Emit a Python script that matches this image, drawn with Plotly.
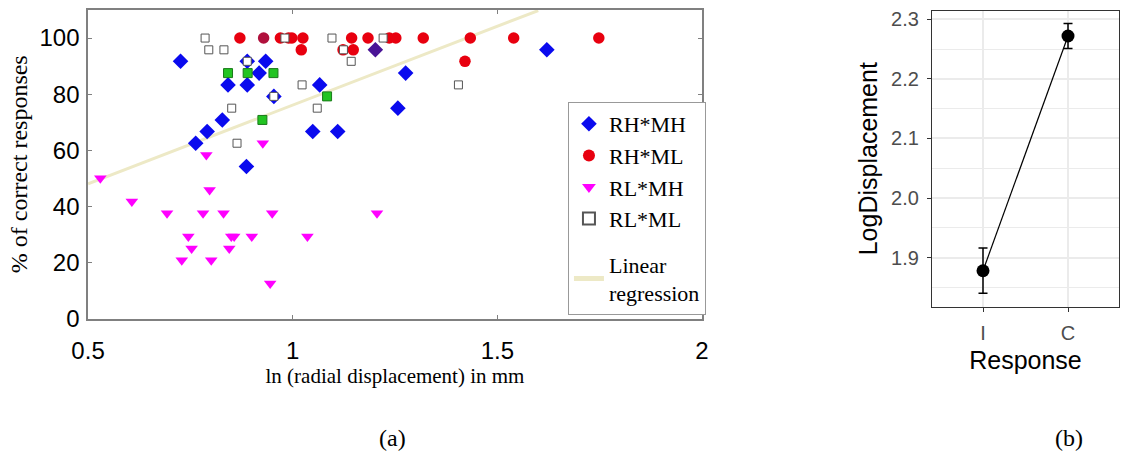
import plotly.graph_objects as go

# ---------------- Panel (a) data ----------------
rh_mh_x = [0.726, 0.842, 0.889, 0.918, 0.934, 0.791, 0.828, 0.763, 0.887, 0.889, 0.954, 1.066, 1.049, 1.110, 1.257, 1.276, 1.621]
rh_mh_y = [91.7, 83.3, 83.3, 87.5, 91.7, 66.7, 70.8, 62.5, 54.2, 91.7, 79.2, 83.3, 66.7, 66.7, 75.0, 87.5, 95.8]

rh_ml_x = [0.871, 0.970, 0.990, 0.998, 1.025, 1.021, 1.144, 1.184, 1.148, 1.123, 1.236, 1.252, 1.319, 1.434, 1.421, 1.540, 1.748]
rh_ml_y = [100, 100, 100, 100, 100, 95.8, 100, 100, 95.8, 95.8, 100, 100, 100, 100, 91.7, 100, 100]

rl_mh_x = [0.530, 0.789, 0.797, 0.607, 0.693, 0.781, 0.831, 0.950, 1.206, 0.745, 0.850, 0.857, 0.900, 1.036, 0.753, 0.845, 0.729, 0.801, 0.945, 0.927]
rl_mh_y = [50.0, 58.3, 45.8, 41.7, 37.5, 37.5, 37.5, 37.5, 37.5, 29.2, 29.2, 29.2, 29.2, 29.2, 25.0, 25.0, 20.8, 20.8, 12.5, 62.5]

rl_ml_x = [0.786, 0.795, 0.832, 0.851, 0.864, 1.023, 1.060, 1.096, 1.143, 1.221, 0.981, 1.124, 0.954, 0.889, 1.405]
rl_ml_y = [100, 95.8, 95.8, 75.0, 62.5, 83.3, 75.0, 100, 91.7, 100, 100, 95.8, 79.2, 91.7, 83.3]

# overlapping points (mixed colours in the original)
green_x = [0.842, 0.890, 0.953, 0.926, 1.084]
green_y = [87.5, 87.5, 87.5, 70.8, 79.2]
purple_x = [1.202]
purple_y = [95.8]
darkred_x = [0.929]
darkred_y = [100]

reg_x = [0.5, 1.6]
reg_y = [48.0, 109.8]

# ---------------- Panel (b) data ----------------
resp_cat = ["I", "C"]
resp_mean = [1.878, 2.272]
resp_err = [0.038, 0.021]

SERIF = "Liberation Serif"
SANS = "Liberation Sans"

fig = go.Figure()

fig.add_trace(go.Scatter(x=reg_x, y=reg_y, mode="lines", name="Linear<br>regression",
                         line=dict(color="#ede9c6", width=3), legendgroup="reg", legendrank=5,
                         xaxis="x", yaxis="y"))
fig.add_trace(go.Scatter(x=rl_mh_x, y=rl_mh_y, mode="markers", name="RL*MH", legendgroup="pts", legendrank=3,
                         marker=dict(symbol="triangle-down", size=11, color="#ff00ff", line=dict(width=0)),
                         xaxis="x", yaxis="y"))
fig.add_trace(go.Scatter(x=rh_mh_x, y=rh_mh_y, mode="markers", name="RH*MH", legendgroup="pts", legendrank=1,
                         marker=dict(symbol="diamond", size=12, color="#0a0aee", line=dict(width=0)),
                         xaxis="x", yaxis="y"))
fig.add_trace(go.Scatter(x=purple_x, y=purple_y, mode="markers", showlegend=False,
                         marker=dict(symbol="diamond", size=12, color="#4a1496", line=dict(width=0)),
                         xaxis="x", yaxis="y"))
fig.add_trace(go.Scatter(x=rh_ml_x, y=rh_ml_y, mode="markers", name="RH*ML", legendgroup="pts", legendrank=2,
                         marker=dict(symbol="circle", size=11.5, color="#e8000f", line=dict(width=0)),
                         xaxis="x", yaxis="y"))
fig.add_trace(go.Scatter(x=darkred_x, y=darkred_y, mode="markers", showlegend=False,
                         marker=dict(symbol="circle", size=11.5, color="#b0103c", line=dict(width=0)),
                         xaxis="x", yaxis="y"))
fig.add_trace(go.Scatter(x=rl_ml_x, y=rl_ml_y, mode="markers", name="RL*ML", legendgroup="pts", legendrank=4,
                         marker=dict(symbol="square", size=8, color="white", line=dict(width=1, color="#555555")),
                         xaxis="x", yaxis="y"))
fig.add_trace(go.Scatter(x=green_x, y=green_y, mode="markers", showlegend=False,
                         marker=dict(symbol="square", size=9, color="#22c422", line=dict(width=1, color="#1a7a1a")),
                         xaxis="x", yaxis="y"))

# panel (b)
fig.add_trace(go.Scatter(x=resp_cat, y=resp_mean, mode="lines+markers", showlegend=False,
                         line=dict(color="black", width=1.2),
                         marker=dict(symbol="circle", size=13, color="black"),
                         error_y=dict(type="data", array=resp_err, arrayminus=resp_err,
                                      color="black", thickness=1.5, width=4.5),
                         xaxis="x2", yaxis="y2"))

fig.update_layout(
    width=1126, height=461,
    margin=dict(l=0, r=0, t=0, b=0),
    paper_bgcolor="white", plot_bgcolor="white",
    xaxis=dict(domain=[0.0782, 0.6234], range=[0.5, 2.0], tick0=0.5, dtick=0.5, automargin=False,
               showline=True, mirror="ticks", linecolor="#808080", linewidth=1.5,
               ticks="inside", ticklen=4, tickcolor="#808080", showgrid=False, zeroline=False,
               tickfont=dict(family=SANS, size=24, color="black"), ticklabelstandoff=10,
               title=dict(text="ln (radial displacement) in mm", font=dict(family=SERIF, size=21, color="black"),
                          standoff=3), anchor="y"),
    yaxis=dict(domain=[0.3091, 0.9783], range=[0, 110], tick0=0, dtick=20, automargin=False,
               showline=True, mirror="ticks", linecolor="#808080", linewidth=1.5,
               ticks="inside", ticklen=4, tickcolor="#808080", showgrid=False, zeroline=False,
               tickfont=dict(family=SANS, size=24, color="black"), ticklabelstandoff=2,
               title=dict(text="% of correct responses", font=dict(family=SERIF, size=24, color="black"),
                          standoff=5), anchor="x"),
    xaxis2=dict(domain=[0.8277, 0.9938], range=[-0.6, 1.6], type="category", automargin=False,
                showline=True, mirror=True, linecolor="#333333", linewidth=1.2,
                ticks="outside", ticklen=4, tickcolor="#333333",
                showgrid=True, gridcolor="#ebebeb", gridwidth=1.5, zeroline=False,
                tickfont=dict(family=SANS, size=20, color="#4d4d4d"), ticklabelstandoff=4,
                title=dict(text="Response", font=dict(family=SANS, size=25, color="black"), standoff=8),
                anchor="y2"),
    yaxis2=dict(domain=[0.3347, 0.9768], range=[1.8176, 2.3145], tick0=1.9, dtick=0.1, tickformat=".1f",
                automargin=False,
                showline=True, mirror=True, linecolor="#333333", linewidth=1.2,
                ticks="outside", ticklen=4, tickcolor="#333333",
                showgrid=True, gridcolor="#ebebeb", gridwidth=1.5, zeroline=False,
                minor=dict(dtick=0.05, tick0=1.85, showgrid=True, gridcolor="#ebebeb", gridwidth=0.8, ticks=""),
                tickfont=dict(family=SANS, size=20, color="#4d4d4d"), ticklabelstandoff=4,
                title=dict(text="LogDisplacement", font=dict(family=SANS, size=25, color="black"), standoff=6),
                anchor="x2"),
    legend=dict(x=0.5044, y=0.7787, xanchor="left", yanchor="top",
                font=dict(family=SERIF, size=22, color="black"),
                bordercolor="#999999", borderwidth=1, bgcolor="white",
                traceorder="grouped", tracegroupgap=14, itemsizing="constant"),
    annotations=[
        dict(text="(a)", x=392 / 1126, y=1 - 438 / 461, xref="paper", yref="paper", showarrow=False,
             xanchor="center", yanchor="middle", font=dict(family=SERIF, size=24, color="black")),
        dict(text="(b)", x=1069 / 1126, y=1 - 438 / 461, xref="paper", yref="paper", showarrow=False,
             xanchor="center", yanchor="middle", font=dict(family=SERIF, size=24, color="black")),
    ],
)

fig.write_html("out.html", config={"displayModeBar": False},
               post_script="document.body.style.margin='0px';document.body.style.overflow='hidden';")
